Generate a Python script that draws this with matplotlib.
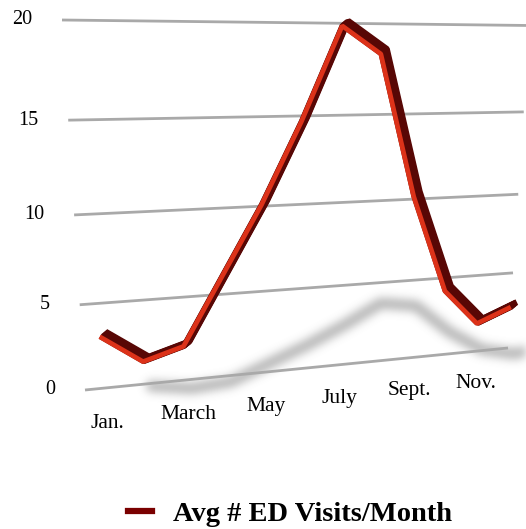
"""Avg ED visits per month - 3D style ribbon line on a receding wall."""
import matplotlib
matplotlib.use('Agg')
import matplotlib.pyplot as plt
import matplotlib.transforms as mtransforms
from matplotlib.lines import Line2D
import numpy as np

# ── Data ──
month_index = list(range(12))
visits = [3.2, 1.5, 2.2, 6.2, 10.2, 14.8, 20.0, 18.5, 10.3, 4.3, 2.0, 2.9]
label_months = [0, 2, 4, 6, 8, 10]
label_text = ['Jan.', 'March', 'May', 'July', 'Sept.', 'Nov.']
y_ticks = [0, 5, 10, 15, 20]
series_name = 'Avg # ED Visits/Month'

# ── Style / layout ──
W, H = 526, 529
U_LEFT, U_RIGHT = -0.49, 10.91
V_MAX = 20
# wall corners in pixels: bottom-left, bottom-right, top-right, top-left
CORNERS = [(85, 390), (508, 348), (529.5, 25.5), (62, 20)]
GRID = '#a9a9a9'
DARK_RED = '#580705'
BRIGHT_RED = '#dc3219'
LEGEND_RED = '#7a0000'
FONT = 'Liberation Serif'
DEPTH = (6.0, 5.0)      # ribbon extrusion, pixels


def square_to_quad(pts):
    (x0, y0), (x1, y1), (x2, y2), (x3, y3) = pts
    dx1, dx2 = x1 - x2, x3 - x2
    dy1, dy2 = y1 - y2, y3 - y2
    sx = x0 - x1 + x2 - x3
    sy = y0 - y1 + y2 - y3
    den = dx1 * dy2 - dx2 * dy1
    g = (sx * dy2 - dx2 * sy) / den
    h = (dx1 * sy - sx * dy1) / den
    return np.array([[x1 - x0 + g * x1, x3 - x0 + h * x3, x0],
                     [y1 - y0 + g * y1, y3 - y0 + h * y3, y0],
                     [g, h, 1.0]])


class WallTransform(mtransforms.Transform):
    """(month, value) -> pixel position on the perspective wall."""
    input_dims = output_dims = 2
    is_separable = False
    has_inverse = False

    def __init__(self, mat):
        super().__init__()
        self.mat = mat

    def transform_non_affine(self, values):
        values = np.asarray(values, dtype=float)
        s = (values[:, 0] - U_LEFT) / (U_RIGHT - U_LEFT)
        t = values[:, 1] / V_MAX
        p = np.vstack([s, t, np.ones_like(s)])
        q = self.mat @ p
        return np.column_stack([q[0] / q[2], q[1] / q[2]])


def gauss_blur(a, sigma):
    r = int(3 * sigma)
    k = np.exp(-0.5 * (np.arange(-r, r + 1) / sigma) ** 2)
    k /= k.sum()
    a = np.apply_along_axis(lambda row: np.convolve(row, k, mode='same'), 1, a)
    a = np.apply_along_axis(lambda col: np.convolve(col, k, mode='same'), 0, a)
    return a


def shadow_filter(im, dpi):
    pad = 25
    alpha = np.pad(im[:, :, 3], pad, mode='constant')
    alpha = gauss_blur(alpha, 4.5)
    out = np.zeros(alpha.shape + (4,))
    out[:, :, :3] = 0.4
    out[:, :, 3] = np.clip(alpha, 0, 1)
    return out, -pad, -pad


fig = plt.figure(figsize=(W / 100, H / 100), dpi=100, facecolor='white')
ax = fig.add_axes([0, 0, 1, 1])
ax.set_xlim(0, W)
ax.set_ylim(H, 0)
ax.axis('off')

wall = WallTransform(square_to_quad(CORNERS)) + ax.transData


def shifted(dx, dy):
    return mtransforms.offset_copy(wall, fig=fig, x=dx, y=dy, units='dots')


# gridlines
for v in y_ticks:
    ax.plot([U_LEFT, U_RIGHT], [v, v], transform=wall, color=GRID, lw=2,
            solid_capstyle='butt', zorder=2)
    ax.text(U_LEFT, v, str(v), transform=shifted(-30, 0), ha='right', va='center',
            fontsize=14.5, family=FONT, color='black')

# soft shadow under the ribbon
shadow_u = [m + 1.1 for m in month_index]
shadow_v = [0.23 * v - 0.9 for v in visits]
sh, = ax.plot(shadow_u, shadow_v, transform=wall, color='#555555', lw=8, alpha=0.48,
              solid_joinstyle='round', solid_capstyle='round', zorder=1)
sh.set_agg_filter(shadow_filter)

# ribbon: dark depth sweep + bright front face
fx, fy = -DEPTH[0] / 2, -DEPTH[1] / 2
for k in np.linspace(1, 0.1, 9):
    ax.plot(month_index, visits, transform=shifted(fx + k * DEPTH[0], fy + k * DEPTH[1]),
            color=DARK_RED, lw=4.3, solid_joinstyle='bevel', solid_capstyle='butt', zorder=4)
ax.plot(month_index, visits, transform=shifted(fx, fy), color=BRIGHT_RED, lw=3.4,
        solid_joinstyle='bevel', solid_capstyle='butt', zorder=5)

# month labels
for m, txt in zip(label_months, label_text):
    ax.text(m, -2.2, txt, transform=wall, ha='center', va='center',
            fontsize=15.5, family=FONT, color='black')

fig.legend(handles=[Line2D([], [], color=LEGEND_RED, lw=4.5)], labels=[series_name],
           loc='center', bbox_to_anchor=(0.551, 0.028), frameon=False,
           handlelength=0.85, handletextpad=0.75, borderpad=0,
           prop=dict(family=FONT, weight='bold', size=20.5))

fig.savefig('out.png', dpi=100, facecolor='white')
